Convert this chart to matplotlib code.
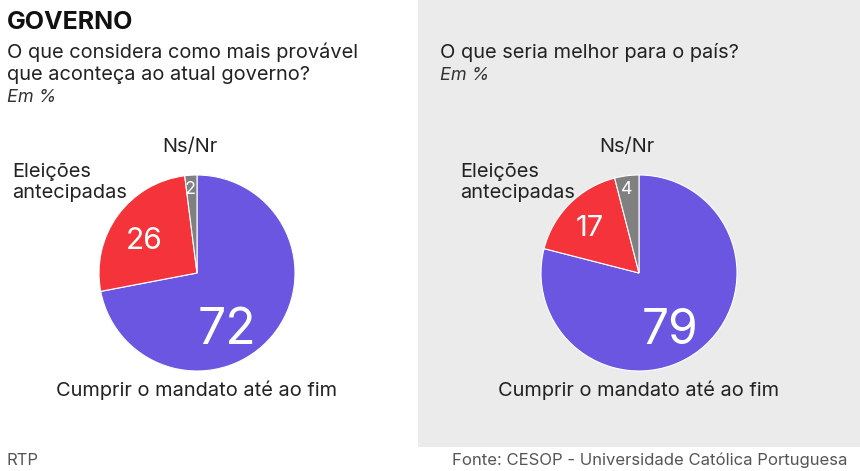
import matplotlib
matplotlib.use("Agg")
import matplotlib.pyplot as plt
from matplotlib.patches import Rectangle

plt.rcParams['font.family'] = ['Inter', 'DejaVu Sans']

W, H = 860, 471

# Data
categories = ["Cumprir o mandato até ao fim", "Eleições\nantecipadas", "Ns/Nr"]
values_left = [72, 26, 2]
values_right = [79, 17, 4]
colors = ["#6a56e0", "#f5333b", "#808080"]

title = "GOVERNO"
q_left = "O que considera como mais provável\nque aconteça ao atual governo?"
q_right = "O que seria melhor para o país?"
unit = "Em %"
source = "Fonte: CESOP - Universidade Católica Portuguesa"
credit = "RTP"

fig = plt.figure(figsize=(W / 100, H / 100), dpi=100)
fig.patch.set_facecolor("white")

# grey right panel
fig.patches.append(Rectangle((418 / W, 1 - 447 / H), (W - 418) / W, 447 / H,
                             transform=fig.transFigure, facecolor="#ebebeb",
                             edgecolor="none", zorder=-5))


def ft(x, y, s, **kw):
    fig.text(x / W, 1 - y / H, s, **kw)


def ftlines(x, y, s, step, **kw):
    for i, line in enumerate(s.split("\n")):
        ft(x, y + i * step, line, **kw)


def px2pt(p):
    return p * 0.72


ft(7, 29, title, fontsize=px2pt(25), fontweight="bold", color="#111111", va="baseline")
ftlines(7, 58, q_left, 22, fontsize=px2pt(20), color="#222222", va="baseline")
ft(7, 102, unit, fontsize=px2pt(18), color="#333333", style="italic", va="baseline")
ft(440, 58, q_right, fontsize=px2pt(20), color="#222222", va="baseline")
ft(440, 80, unit, fontsize=px2pt(18), color="#333333", style="italic", va="baseline")

ft(7, 465, credit, fontsize=px2pt(16.7), color="#555555", va="baseline")
ft(847, 465, source, fontsize=px2pt(16.7), color="#555555", va="baseline", ha="right")


def draw_pie(cx, cy, r, vals, num_pos, num_sizes, ns_x, el_x):
    ax = fig.add_axes([(cx - r) / W, 1 - (cy + r) / H, 2 * r / W, 2 * r / H])
    ax.pie(vals, colors=colors, startangle=90, counterclock=False,
           wedgeprops=dict(edgecolor="white", linewidth=0.8))
    ax.set_xlim(-1, 1)
    ax.set_ylim(-1, 1)
    ax.axis("off")
    for v, (x, y), s in zip(vals, num_pos, num_sizes):
        ft(x, y, str(v), fontsize=px2pt(s), color="white", ha="center", va="center_baseline")
    ft(ns_x, 152, categories[2], fontsize=px2pt(20), color="#222222", ha="center", va="baseline")
    ftlines(el_x, 177, categories[1], 21, fontsize=px2pt(20), color="#222222", ha="left",
            va="baseline")
    ft(cx, 396, categories[0], fontsize=px2pt(20), color="#222222", ha="center", va="baseline")


draw_pie(197, 273, 98, values_left,
         [(227, 325), (144, 238), (190, 187)], [50, 30, 18], 190, 12)
draw_pie(639, 273, 98, values_right,
         [(670, 326), (590, 226), (627, 187)], [48, 29, 18], 627, 460)

fig.savefig("out.png", dpi=100, facecolor=fig.get_facecolor())
